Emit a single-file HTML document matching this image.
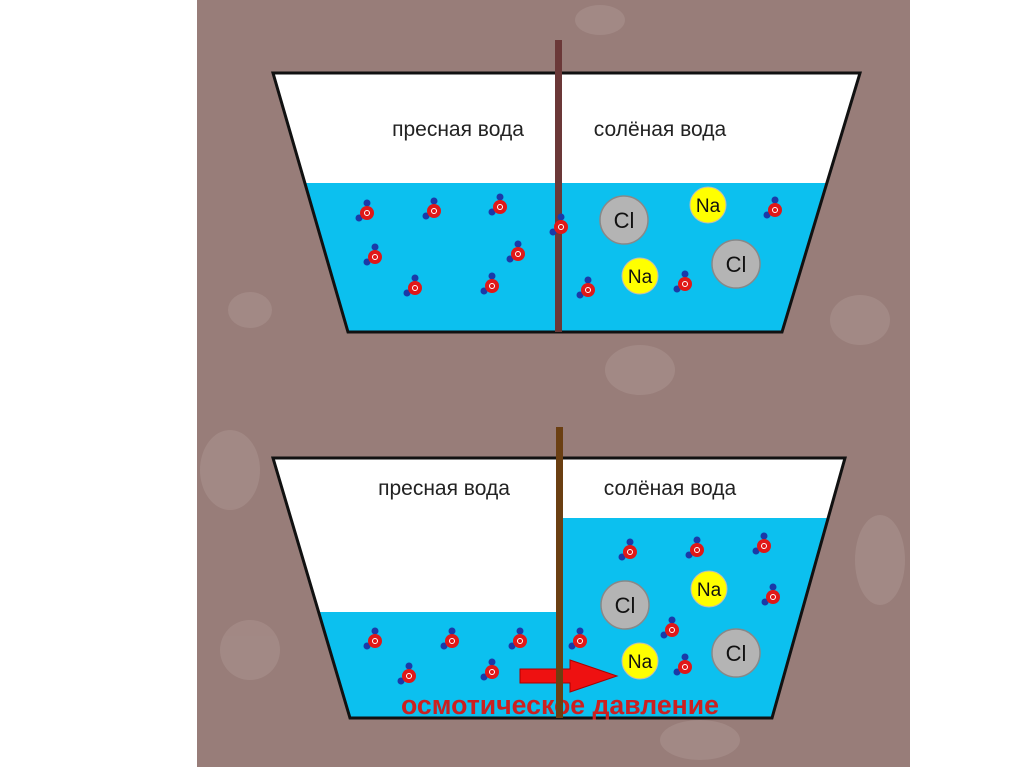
<!DOCTYPE html>
<html><head><meta charset="utf-8"><style>
html,body{margin:0;padding:0;background:#fff;}
svg{display:block;}
text{font-family:"Liberation Sans",sans-serif;}
</style></head><body>
<svg width="1024" height="767" viewBox="0 0 1024 767" xmlns="http://www.w3.org/2000/svg">
<defs>
<g id="w">
<line x1="0" y1="0" x2="-8" y2="5" stroke="#222" stroke-width="2"/>
<line x1="0" y1="0" x2="0" y2="-9" stroke="#222" stroke-width="2"/>
<circle cx="-8" cy="5" r="3.5" fill="#1a3aa8"/>
<circle cx="0" cy="-10" r="3.5" fill="#1a3aa8"/>
<circle cx="0" cy="0" r="7" fill="#e01818"/>
<circle cx="0" cy="0" r="2.5" fill="none" stroke="#fff" stroke-width="1"/>
</g>
<g id="cl"><circle r="24" fill="#b4b4b4" stroke="#888" stroke-width="1.5"/><text y="8" text-anchor="middle" font-size="22" fill="#111">Cl</text></g>
<g id="na"><circle r="18" fill="#ffff00" stroke="#bbb" stroke-width="1"/><text y="7" text-anchor="middle" font-size="19" fill="#111">Na</text></g>
</defs>
<rect x="197" y="0" width="713" height="767" fill="#987d79"/>
<g fill="#a78e8a" opacity="0.7">
<ellipse cx="250" cy="310" rx="22" ry="18"/><ellipse cx="230" cy="470" rx="30" ry="40"/><ellipse cx="860" cy="320" rx="30" ry="25"/>
<ellipse cx="640" cy="370" rx="35" ry="25"/><ellipse cx="700" cy="740" rx="40" ry="20"/><ellipse cx="880" cy="560" rx="25" ry="45"/>
<ellipse cx="600" cy="20" rx="25" ry="15"/><ellipse cx="250" cy="650" rx="30" ry="30"/>
</g>
<!-- top container -->
<polygon points="273,73 860,73 782,332 348,332" fill="#fff"/>
<polygon points="306,183 827,183 782,332 348,332" fill="#0cc0ef"/>
<polygon points="273,73 860,73 782,332 348,332" fill="none" stroke="#111" stroke-width="3"/>
<text x="458" y="136" text-anchor="middle" font-size="21" fill="#222">пресная вода</text>
<text x="660" y="136" text-anchor="middle" font-size="21" fill="#222">солёная вода</text>
<use href="#w" x="367" y="213"/><use href="#w" x="434" y="211"/><use href="#w" x="500" y="207"/>
<use href="#w" x="375" y="257"/><use href="#w" x="518" y="254"/><use href="#w" x="415" y="288"/>
<use href="#w" x="492" y="286"/><use href="#w" x="775" y="210"/><use href="#w" x="588" y="290"/><use href="#w" x="685" y="284"/>
<use href="#cl" x="624" y="220"/><use href="#cl" x="736" y="264"/>
<use href="#na" x="708" y="205"/><use href="#na" x="640" y="276"/>
<rect x="555" y="40" width="7" height="292" fill="#6b3838"/>
<use href="#w" x="561" y="227"/>
<!-- bottom container -->
<polygon points="273,458 845,458 772,718 350,718" fill="#fff"/>
<polygon points="562,518 828,518 772,718 562,718" fill="#0cc0ef"/>
<polygon points="319,612 562,612 562,718 350,718" fill="#0cc0ef"/>
<polygon points="273,458 845,458 772,718 350,718" fill="none" stroke="#111" stroke-width="3"/>
<text x="444" y="495" text-anchor="middle" font-size="21" fill="#222">пресная вода</text>
<text x="670" y="495" text-anchor="middle" font-size="21" fill="#222">солёная вода</text>
<use href="#w" x="375" y="641"/><use href="#w" x="452" y="641"/><use href="#w" x="520" y="641"/>
<use href="#w" x="409" y="676"/><use href="#w" x="492" y="672"/>
<use href="#w" x="580" y="641"/><use href="#w" x="630" y="552"/><use href="#w" x="697" y="550"/>
<use href="#w" x="764" y="546"/><use href="#w" x="773" y="597"/><use href="#w" x="672" y="630"/><use href="#w" x="685" y="667"/>
<use href="#cl" x="625" y="605"/><use href="#cl" x="736" y="653"/>
<use href="#na" x="709" y="589"/><use href="#na" x="640" y="661"/>
<polygon points="520,669 570,669 570,660 617,676 570,692 570,683 520,683" fill="#ee1111" stroke="#a00" stroke-width="1"/>
<text x="560" y="714" text-anchor="middle" font-size="27" font-weight="bold" fill="#cc2020" textLength="318" lengthAdjust="spacingAndGlyphs">осмотическое давление</text>
<rect x="556" y="427" width="7" height="291" fill="#6b3f12"/>
</svg>
</body></html>
